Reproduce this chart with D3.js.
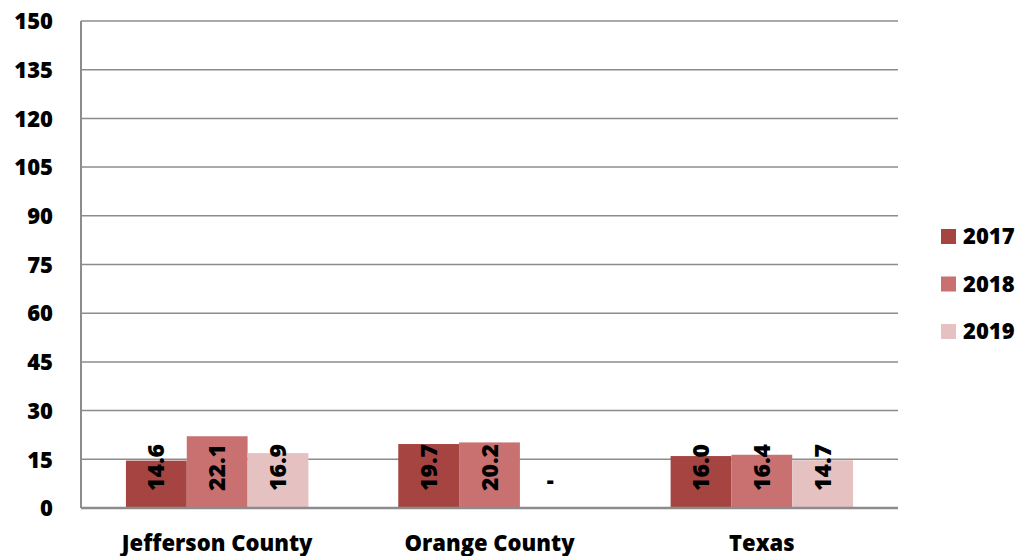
<!DOCTYPE html>
<html><head><meta charset="utf-8">
<script src="https://cdn.jsdelivr.net/npm/d3@7"></script>
<style>body{margin:0;background:#fff}svg{display:block}text{font-family:"Open Sans",sans-serif;font-weight:bold;fill:#000}</style>
</head><body><svg id="c" width="1030" height="556"></svg>
<script>
const categories = ["Jefferson County", "Orange County", "Texas"];
const seriesNames = ["2017", "2018", "2019"];
const values2017 = [14.6, 19.7, 16.0];
const values2018 = [22.1, 20.2, 16.4];
const values2019 = [16.9, null, 14.7];
const yTicks = [0, 15, 30, 45, 60, 75, 90, 105, 120, 135, 150];
const colors = ["#A54441", "#C87170", "#E5C1C2"];

const series = [values2017, values2018, values2019];
const svg = d3.select("#c");
const pLeft = 81, pRight = 898, pTop = 21, pBottom = 508;
const y = d3.scaleLinear().domain([0, 150]).range([pBottom, pTop]);
const x0 = d3.scaleBand().domain(categories).range([pLeft, pRight]).paddingInner(0.33).paddingOuter(0.165);
const x1 = d3.scaleBand().domain(seriesNames).range([0, x0.bandwidth()]);

// gridlines
svg.append("g").selectAll("line").data(yTicks.filter(d => d > 0)).join("line")
  .attr("x1", pLeft).attr("x2", pRight).attr("y1", d => y(d)).attr("y2", d => y(d))
  .attr("stroke", "#8c8c8c").attr("stroke-width", 1.5);

// y axis labels
const yAxis = d3.axisLeft(y).tickValues(yTicks).tickSize(0).tickPadding(0);
const ya = svg.append("g").attr("transform", `translate(${pLeft},0)`).call(yAxis);
ya.select(".domain").remove();
ya.selectAll("text").attr("x", -28).attr("text-anchor", "end").style("font-size", "22px")
  .style("font-family", "'Open Sans',sans-serif").style("font-weight", "800").attr("dy", "0.35em").attr("fill", "#000");

// bars
categories.forEach((c, ci) => {
  series.forEach((s, si) => {
    const v = s[ci];
    const bx = x0(c) + x1(seriesNames[si]);
    const cx = bx + x1.bandwidth() / 2;
    if (v == null) {
      svg.append("text").attr("x", cx).attr("y", y(0) - 20).attr("text-anchor", "middle")
        .style("font-size", "22px").style("font-weight", "800").text("-");
      return;
    }
    svg.append("rect").attr("x", bx).attr("y", y(v)).attr("width", x1.bandwidth())
      .attr("height", y(0) - y(v)).attr("fill", colors[si]);
    svg.append("text").attr("transform", `translate(${cx + 8},${y(0) - 17}) rotate(-90)`)
      .attr("text-anchor", "start").style("font-size", "23px").style("font-weight", "800").text(v.toFixed(1));
  });
});

// axes lines
svg.append("line").attr("x1", pLeft).attr("x2", pLeft).attr("y1", pTop).attr("y2", pBottom)
  .attr("stroke", "#8c8c8c").attr("stroke-width", 2);
svg.append("line").attr("x1", pLeft).attr("x2", pRight).attr("y1", pBottom).attr("y2", pBottom)
  .attr("stroke", "#8c8c8c").attr("stroke-width", 2.5);

// x axis labels
const xAxis = d3.axisBottom(x0).tickSize(0).tickPadding(0);
const xa = svg.append("g").attr("transform", `translate(0,${pBottom})`).call(xAxis);
xa.select(".domain").remove();
xa.selectAll("text").attr("y", 43).attr("dy", 0).style("font-size", "22px")
  .style("font-family", "'Open Sans',sans-serif").style("font-weight", "800").attr("fill", "#000");

// legend
const lg = svg.append("g").selectAll("g").data(seriesNames).join("g")
  .attr("transform", (d, i) => `translate(941,${229 + i * 47.5})`);
lg.append("rect").attr("width", 15).attr("height", 15).attr("fill", (d, i) => colors[i]);
lg.append("text").attr("x", 22).attr("y", 15).style("font-size", "22px").style("font-weight", "800").text(d => d);
</script></body></html>
